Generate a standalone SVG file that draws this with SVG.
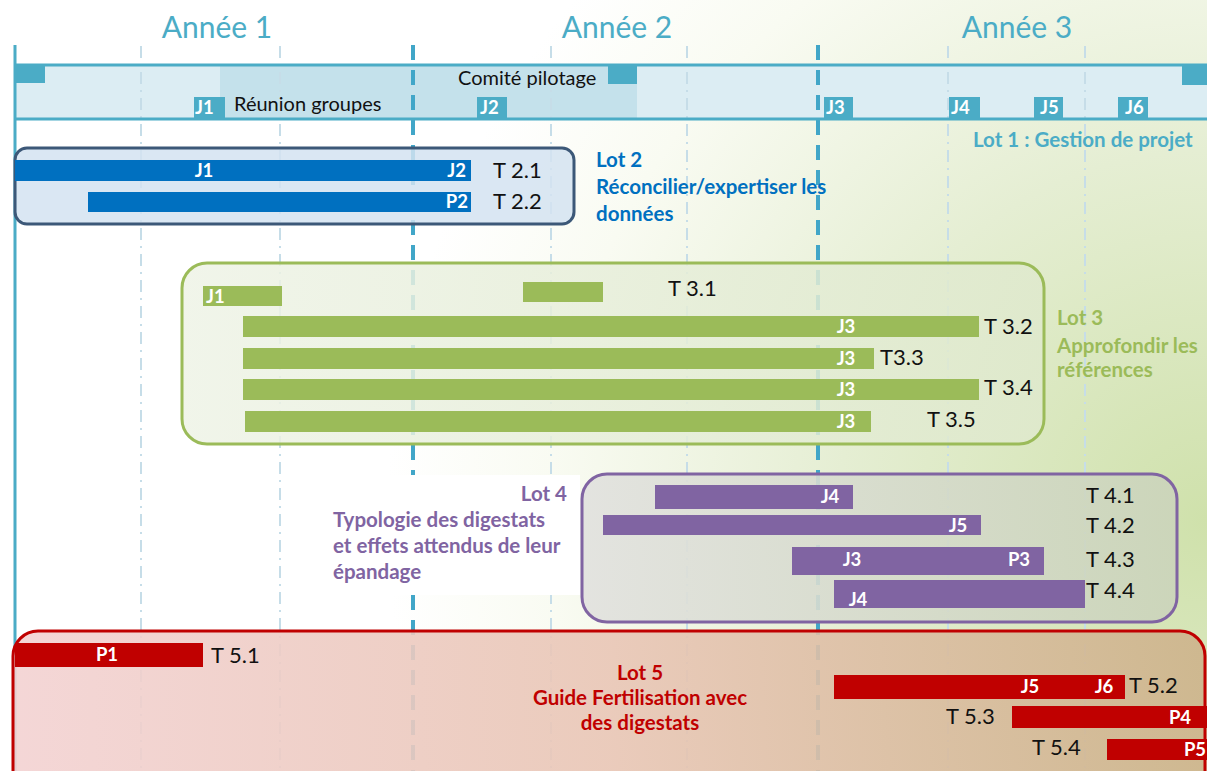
<svg xmlns="http://www.w3.org/2000/svg" width="1207" height="771" viewBox="0 0 1207 771">
<style>
.year{font-family:Lato,"Liberation Sans",sans-serif;font-size:30px;fill:#4bacc6}
.t{font-family:Lato,"Liberation Sans",sans-serif;font-size:22px;fill:#111}
.h{font-family:Lato,"Liberation Sans",sans-serif;font-size:20px;fill:#111}
.lot{font-family:Lato,"Liberation Sans",sans-serif;font-size:20.5px;font-weight:bold}
.bl{font-family:Lato,"Liberation Sans",sans-serif;font-size:18.5px;font-weight:bold;fill:#fff}
.ax{stroke:#4bacc6;stroke-width:3;fill:none}
.yr{stroke:#41a6c8;stroke-width:4;stroke-dasharray:15 10;fill:none}
.q{stroke:#c6dde8;stroke-width:2;stroke-dasharray:12 6 2 6;fill:none}
.mk{fill:#4bacc6}
</style>
<defs>
<radialGradient id="bg" cx="1207" cy="520" r="820" gradientUnits="userSpaceOnUse">
<stop offset="0" stop-color="#cfe1ab"/>
<stop offset="0.45" stop-color="#e5eed3"/>
<stop offset="0.8" stop-color="#f9fbf2"/>
<stop offset="1" stop-color="#ffffff"/>
</radialGradient>
<linearGradient id="g3" x1="0" y1="0" x2="1" y2="0">
<stop offset="0" stop-color="#eef3e6"/>
<stop offset="1" stop-color="#dfe9cd"/>
</linearGradient>
<linearGradient id="g4" x1="0" y1="0" x2="1" y2="0">
<stop offset="0" stop-color="#e1e1de"/>
<stop offset="1" stop-color="#cbd4bb"/>
</linearGradient>
<linearGradient id="g5" x1="0" y1="0" x2="1" y2="0">
<stop offset="0" stop-color="#f3d2d2"/>
<stop offset="0.5" stop-color="#e9c6b6"/>
<stop offset="1" stop-color="#cdb38b"/>
</linearGradient>
</defs>
<rect width="1207" height="771" fill="url(#bg)"/>

<g id="header">
<rect x="15" y="65" width="1192" height="54" fill="#dcedf3"/>
<rect x="220" y="66" width="417" height="52" fill="#c4e1eb"/>
</g>

<g id="connectors">
<line class="q" x1="141" y1="46" x2="141" y2="771"/>
<line class="q" x1="280" y1="46" x2="280" y2="771"/>
<line class="q" x1="551" y1="46" x2="551" y2="771"/>
<line class="q" x1="687" y1="46" x2="687" y2="771"/>
<line class="q" x1="948" y1="46" x2="948" y2="771"/>
<line class="q" x1="1085" y1="46" x2="1085" y2="771"/>
<line class="yr" x1="413" y1="45" x2="413" y2="771"/>
<line class="yr" x1="818" y1="45" x2="818" y2="771"/>
<line class="ax" x1="15" y1="45" x2="15" y2="771"/>
<line class="ax" x1="15" y1="65" x2="1207" y2="65"/>
<line class="ax" x1="15" y1="119" x2="1207" y2="119"/>
</g>

<g id="years">
<text class="year" x="217" y="38" text-anchor="middle">Année 1</text>
<text class="year" x="617" y="38" text-anchor="middle">Année 2</text>
<text class="year" x="1017" y="38" text-anchor="middle">Année 3</text>
</g>

<g id="lot1">
<rect class="mk" x="15" y="65" width="30" height="18"/>
<rect class="mk" x="608" y="65" width="29" height="19"/>
<rect class="mk" x="1182" y="65" width="25" height="20"/>
<rect class="mk" x="194" y="97" width="31" height="21"/>
<rect class="mk" x="477" y="97" width="30" height="21"/>
<rect class="mk" x="824" y="97" width="29" height="21"/>
<rect class="mk" x="949" y="97" width="31" height="21"/>
<rect class="mk" x="1034" y="97" width="29" height="21"/>
<rect class="mk" x="1118" y="97" width="30" height="21"/>
<text class="bl" x="195" y="114">J1</text>
<text class="bl" x="480" y="114">J2</text>
<text class="bl" x="826" y="114">J3</text>
<text class="bl" x="951" y="114">J4</text>
<text class="bl" x="1040" y="114">J5</text>
<text class="bl" x="1125" y="114">J6</text>
<text class="h" x="234" y="111">Réunion groupes</text>
<text class="h" x="458" y="85">Comité pilotage</text>
<text class="lot" x="973" y="147" fill="#4bacc6">Lot 1 : Gestion de projet</text>
</g>

<g id="lot2">
<rect x="15" y="148" width="559" height="76" rx="12" fill="#d3e3f1" fill-opacity="0.85" stroke="#3c5878" stroke-width="3"/>
<rect x="15" y="160" width="456" height="21" fill="#0070c0"/>
<rect x="88" y="192" width="383" height="20" fill="#0070c0"/>
<text class="bl" x="204" y="177" text-anchor="middle">J1</text>
<text class="bl" x="466" y="177" text-anchor="end">J2</text>
<text class="bl" x="468" y="208" text-anchor="end">P2</text>
<text class="t" x="493" y="178">T 2.1</text>
<text class="t" x="493" y="209">T 2.2</text>
<text class="lot" fill="#0070c0" x="596" y="167">Lot 2</text>
<text class="lot" fill="#0070c0" x="596" y="194">Réconcilier/expertiser les</text>
<text class="lot" fill="#0070c0" x="596" y="221">données</text>
</g>

<g id="lot3">
<rect x="182" y="263" width="862" height="181" rx="25" fill="url(#g3)" fill-opacity="0.85" stroke="#9bbb59" stroke-width="3"/>
<g fill="#9bbb59">
<rect x="203" y="286" width="79" height="20"/>
<rect x="523" y="282" width="80" height="20"/>
<rect x="243" y="316" width="736" height="21"/>
<rect x="243" y="348" width="631" height="21"/>
<rect x="243" y="379" width="736" height="21"/>
<rect x="245" y="411" width="626" height="21"/>
</g>
<text class="bl" x="206" y="303">J1</text>
<text class="bl" x="846" y="333" text-anchor="middle">J3</text>
<text class="bl" x="846" y="365" text-anchor="middle">J3</text>
<text class="bl" x="846" y="396" text-anchor="middle">J3</text>
<text class="bl" x="846" y="428" text-anchor="middle">J3</text>
<text class="t" x="668" y="296">T 3.1</text>
<text class="t" x="984" y="334">T 3.2</text>
<text class="t" x="880" y="365">T3.3</text>
<text class="t" x="984" y="395">T 3.4</text>
<text class="t" x="927" y="427">T 3.5</text>
<text class="lot" fill="#9bbb59" x="1057" y="325">Lot 3</text>
<text class="lot" fill="#9bbb59" x="1057" y="353">Approfondir les</text>
<text class="lot" fill="#9bbb59" x="1057" y="377">références</text>
</g>

<g id="lot4">
<rect x="318" y="475" width="262" height="120" fill="#ffffff"/>
<rect x="582" y="474" width="595" height="148" rx="25" fill="url(#g4)" fill-opacity="0.9" stroke="#8064a2" stroke-width="3"/>
<g fill="#8064a2">
<rect x="655" y="485" width="198" height="24"/>
<rect x="603" y="515" width="378" height="20"/>
<rect x="792" y="547" width="252" height="28"/>
<rect x="834" y="580" width="251" height="28"/>
</g>
<text class="bl" x="830" y="503" text-anchor="middle">J4</text>
<text class="bl" x="958" y="532" text-anchor="middle">J5</text>
<text class="bl" x="852" y="566" text-anchor="middle">J3</text>
<text class="bl" x="1019" y="566" text-anchor="middle">P3</text>
<text class="bl" x="858" y="606" text-anchor="middle">J4</text>
<text class="t" x="1086" y="503">T 4.1</text>
<text class="t" x="1086" y="533">T 4.2</text>
<text class="t" x="1086" y="567">T 4.3</text>
<text class="t" x="1086" y="598">T 4.4</text>
<text class="lot" fill="#8064a2" x="567" y="501" text-anchor="end">Lot 4</text>
<text class="lot" fill="#8064a2" x="333" y="527">Typologie  des digestats</text>
<text class="lot" fill="#8064a2" x="333" y="553">et effets attendus de leur</text>
<text class="lot" fill="#8064a2" x="333" y="579">épandage</text>
</g>

<g id="lot5">
<rect x="13" y="631" width="1192" height="170" rx="25" fill="url(#g5)" fill-opacity="0.9" stroke="#c00000" stroke-width="3"/>
<g fill="#c00000">
<rect x="15" y="643" width="188" height="24"/>
<rect x="834" y="675" width="291" height="24"/>
<rect x="1012" y="706" width="195" height="22"/>
<rect x="1107" y="739" width="100" height="21"/>
</g>
<text class="bl" x="107" y="661" text-anchor="middle">P1</text>
<text class="bl" x="1030" y="693" text-anchor="middle">J5</text>
<text class="bl" x="1104" y="693" text-anchor="middle">J6</text>
<text class="bl" x="1180" y="724" text-anchor="middle">P4</text>
<text class="bl" x="1195" y="756" text-anchor="middle">P5</text>
<text class="t" x="211" y="663">T 5.1</text>
<text class="t" x="1129" y="693">T 5.2</text>
<text class="t" x="946" y="724">T 5.3</text>
<text class="t" x="1032" y="755">T 5.4</text>
<text class="lot" fill="#c00000" x="640" y="680" text-anchor="middle">Lot 5</text>
<text class="lot" fill="#c00000" x="640" y="705" text-anchor="middle">Guide Fertilisation avec</text>
<text class="lot" fill="#c00000" x="640" y="730" text-anchor="middle">des digestats</text>
</g>
</svg>
